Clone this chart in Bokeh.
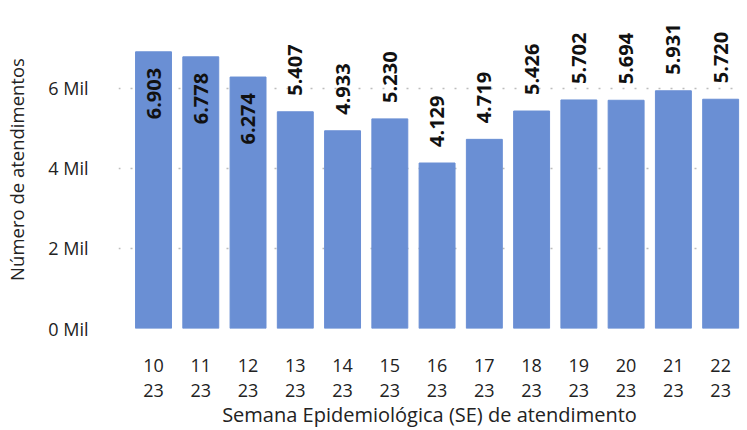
from bokeh.plotting import figure
from bokeh.models import ColumnDataSource, FixedTicker, Range1d
from bokeh.embed import file_html
from bokeh.resources import INLINE
from bokeh.core.properties import value
import math

weeks = [10, 11, 12, 13, 14, 15, 16, 17, 18, 19, 20, 21, 22]
year = "23"
atendimentos = [6903, 6778, 6274, 5407, 4933, 5230, 4129, 4719, 5426, 5702, 5694, 5931, 5720]
y_ticks = [0, 2000, 4000, 6000]
y_tick_labels = ["0 Mil", "2 Mil", "4 Mil", "6 Mil"]

FONT = "Open Sans"
BAR = "#6A8FD4"

labels = [f"{v/1000:.3f}" for v in atendimentos]
inside_threshold = 6000
inside = [v > inside_threshold for v in atendimentos]

p = figure(width=747, height=430, output_backend="svg", toolbar_location=None,
           x_range=Range1d(9.259, 22.42), y_range=Range1d(0, 7934),
           min_border_left=118, min_border_right=7, min_border_top=10, min_border_bottom=100)
p.outline_line_color = None
p.background_fill_color = "white"

p.vbar(x=weeks, top=atendimentos, width=0.76, color=BAR)

src_in = ColumnDataSource(dict(x=[w for w, i in zip(weeks, inside) if i],
                               y=[v for v, i in zip(atendimentos, inside) if i],
                               t=[l for l, i in zip(labels, inside) if i]))
src_out = ColumnDataSource(dict(x=[w for w, i in zip(weeks, inside) if not i],
                                y=[v for v, i in zip(atendimentos, inside) if not i],
                                t=[l for l, i in zip(labels, inside) if not i]))
common = dict(angle=math.pi / 2, text_font=value(FONT), text_font_style="bold",
              text_font_size="20px", text_color="#111111", text_baseline="middle")
p.text(x="x", y="y", text="t", source=src_in, text_align="right", y_offset=16, **common)
p.text(x="x", y="y", text="t", source=src_out, text_align="left", y_offset=-16, **common)

p.xgrid.grid_line_color = None
p.ygrid.ticker = FixedTicker(ticks=y_ticks)
p.ygrid.grid_line_color = "#bdbdbd"
p.ygrid.grid_line_dash = "2 10"
p.ygrid.grid_line_width = 1.5

p.yaxis.ticker = FixedTicker(ticks=y_ticks)
p.yaxis.major_label_overrides = {t: l for t, l in zip(y_ticks, y_tick_labels)}
p.xaxis.ticker = FixedTicker(ticks=weeks)
p.xaxis.major_label_overrides = {w: f"{w}\n{year}" for w in weeks}

for ax in (p.xaxis, p.yaxis):
    ax.axis_line_color = None
    ax.major_tick_line_color = None
    ax.minor_tick_line_color = None
    ax.major_label_text_font = FONT
    ax.major_label_text_font_size = "18px"
    ax.major_label_text_color = "#222222"
    ax.axis_label_text_font = FONT
    ax.axis_label_text_font_style = "normal"
    ax.axis_label_text_color = "#222222"

p.xaxis.major_label_text_line_height = 1.05
p.xaxis.axis_label_text_font_size = "20px"
p.yaxis.axis_label_text_font_size = "18.5px"
p.yaxis.major_label_standoff = 24
p.xaxis.major_label_standoff = 18
p.xaxis.axis_label = "Semana Epidemiológica (SE) de atendimento"
p.yaxis.axis_label = "Número de atendimentos"
p.xaxis.axis_label_standoff = -4
p.yaxis.axis_label_standoff = 16

open("out.html", "w").write(file_html(p, INLINE))
